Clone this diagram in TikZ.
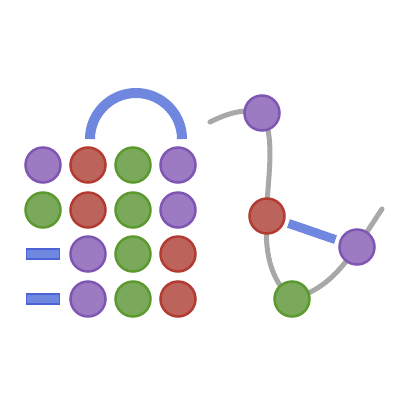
\documentclass[tikz,border=0pt]{standalone}
\usetikzlibrary{backgrounds}
\definecolor{pf}{HTML}{9C7BC3}\definecolor{pd}{HTML}{8056B3}
\definecolor{rf}{HTML}{BC635B}\definecolor{rd}{HTML}{B23B32}
\definecolor{gf}{HTML}{7BA95B}\definecolor{gd}{HTML}{5C992F}
\definecolor{bf}{HTML}{6F87DE}\definecolor{bd}{HTML}{4B63D6}
\definecolor{gl}{HTML}{A8A8A8}
\tikzset{
  ball/.style={circle,minimum size=35pt,inner sep=0pt,line width=2.5pt},
  pu/.style={ball,fill=pf,draw=pd},
  re/.style={ball,fill=rf,draw=rd},
  gr/.style={ball,fill=gf,draw=gd},
  bar/.style={rectangle,minimum width=33pt,minimum height=10pt,inner sep=0pt,fill=bf,draw=bd,line width=1.5pt},
  wire/.style={draw=gl,line width=5pt,line cap=round},
  link/.style={draw=bf,line width=9pt,shorten >=4pt,shorten <=4pt}
}
\begin{document}
\begin{tikzpicture}[x=1pt,y=-1pt]
\useasboundingbox (0,0) rectangle (400,400);
% arch
\draw[bf,line width=10pt] (90,139) arc[start angle=180,end angle=0,radius=46pt];
% grid
\node[pu] (a1) at (43,165) {};
\node[re] (a2) at (88,165) {};
\node[gr] (a3) at (133,165) {};
\node[pu] (a4) at (178,165) {};
\node[gr] (b1) at (43,210) {};
\node[re] (b2) at (88,210) {};
\node[gr] (b3) at (133,210) {};
\node[pu] (b4) at (178,210) {};
\node[bar] (c1) at (43,254) {};
\node[pu] (c2) at (88,254) {};
\node[gr] (c3) at (133,254) {};
\node[re] (c4) at (178,254) {};
\node[bar] (d1) at (43,299) {};
\node[pu] (d2) at (88,299) {};
\node[gr] (d3) at (133,299) {};
\node[re] (d4) at (178,299) {};
% graph
\node[pu] (n1) at (262,113) {};
\node[re] (n2) at (267,216) {};
\node[pu] (n3) at (357,247) {};
\node[gr] (n4) at (292,299) {};
\coordinate (e1) at (210,122);
\coordinate (e2) at (382,209);
\begin{scope}[on background layer]
\draw[wire] (e1) .. controls (228,113) and (245,108) .. (n1.center);
\draw[wire] (n1.center) .. controls (277,140) and (266,185) .. (n2.center);
\draw[wire] (n2.center) .. controls (264,250) and (270,280) .. (n4.center);
\draw[wire] (n4.center) .. controls (325,290) and (340,270) .. (n3.center);
\draw[wire] (n3.center) -- (e2);
\end{scope}
\draw[link] (n2) -- (n3);
\end{tikzpicture}
\end{document}
